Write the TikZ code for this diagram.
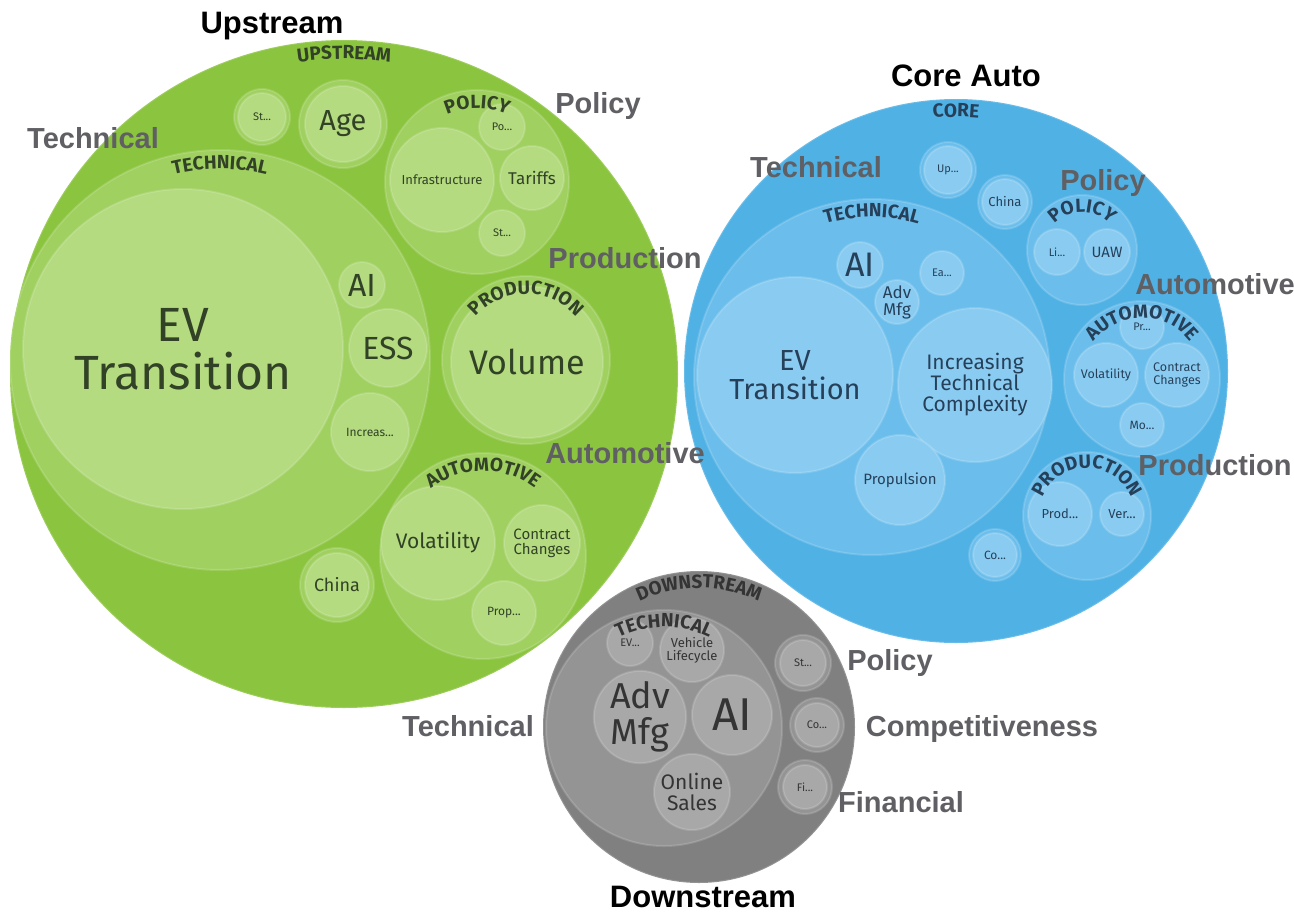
\documentclass[tikz,border=0pt]{standalone}
\usepackage{fontspec}
\setmainfont{Liberation Sans}
\newfontfamily\bubfont{Fira Sans}
\usetikzlibrary{decorations.text}

\definecolor{gZero}{RGB}{139,196,63}
\definecolor{gOne}{RGB}{160,208,96}
\definecolor{gTwo}{RGB}{180,219,128}
\definecolor{gInk}{RGB}{50,66,38}
\definecolor{bZero}{RGB}{80,177,229}
\definecolor{bOne}{RGB}{107,190,236}
\definecolor{bTwo}{RGB}{138,204,241}
\definecolor{bInk}{RGB}{38,64,90}
\definecolor{kZero}{RGB}{128,128,128}
\definecolor{kOne}{RGB}{148,148,148}
\definecolor{kTwo}{RGB}{168,168,168}
\definecolor{kInk}{RGB}{52,52,52}
\definecolor{labGray}{RGB}{95,95,100}

\newcommand{\bsz}[1]{\fontsize{#1}{#1}\selectfont}
% curved group name along the top of a bubble
\newcommand{\arclabel}[4]{%
  \path[decorate, decoration={text along path, text align=center, text color=#4,
      text={|\bubfont\bfseries\bsz{19}|#3}}]
    #1 ++(178:#2) arc[start angle=178, end angle=2, radius=#2];}

\begin{document}
\begin{tikzpicture}[x=1pt, y=1pt,
  bub/.style={circle, inner sep=0pt, align=center, draw=white, draw opacity=0.15, line width=2pt},
  fs/.style={font=\bubfont\bsz{#1}},
  g0/.style={bub, fill=gZero, minimum size=#1},
  g1/.style={bub, fill=gOne, minimum size=#1},
  g2/.style={bub, fill=gTwo, text=gInk, minimum size=#1},
  b0/.style={bub, fill=bZero, minimum size=#1},
  b1/.style={bub, fill=bOne, minimum size=#1},
  b2/.style={bub, fill=bTwo, text=bInk, minimum size=#1},
  k0/.style={bub, fill=kZero, minimum size=#1},
  k1/.style={bub, fill=kOne, minimum size=#1},
  k2/.style={bub, fill=kTwo, text=kInk, minimum size=#1},
  lab/.style={font=\bfseries\bsz{29}, text=labGray, anchor=base, inner sep=0pt},
  ttl/.style={font=\bfseries\bsz{31}, anchor=base, inner sep=0pt}]
  \useasboundingbox (0,0) rectangle (1294,-911);

  % upstream
  \node[g0=668] (up) at (344,-374) {};
  \node[g1=420] (upTech) at (220,-360) {};
  \node[g2=320, fs=48] (upEV) at (183,-349) {EV\\Transition};
  \node[g2=46, fs=32] (upAI) at (362,-285) {AI};
  \node[g2=78, fs=32] (upESS) at (388,-348) {ESS};
  \node[g2=78, fs=12] (upInc) at (370,-432) {Increas...};
  \node[g1=56] (upStc) at (262,-117) {};
  \node[g2=48, fs=11] (upSt) at (262,-117) {St...};
  \node[g1=88] (upAgec) at (343,-124) {};
  \node[g2=76, fs=29] (upAge) at (343,-124) {Age};
  \node[g1=184] (upPol) at (477,-182) {};
  \node[g2=46, fs=11] (upPo) at (502,-127) {Po...};
  \node[g2=104, fs=13] (upInf) at (442,-180) {Infrastructure};
  \node[g2=64, fs=17] (upTar) at (532,-178) {Tariffs};
  \node[g2=46, fs=11] (upSt2) at (502,-233) {St...};
  \node[g1=168] (upProd) at (526,-360) {};
  \node[g2=152, fs=34] (upVol) at (527,-362) {Volume};
  \node[g1=206] (upAuto) at (483,-556) {};
  \node[g2=114, fs=21] (upVlt) at (438,-543) {Volatility};
  \node[g2=76, fs=15] (upCon) at (542,-543) {Contract\\Changes};
  \node[g2=64, fs=12] (upProp) at (504,-613) {Prop...};
  \node[g1=74] (upChc) at (337,-585) {};
  \node[g2=64, fs=18] (upCh) at (337,-585) {China};
  \arclabel{(344,-374)}{315}{UPSTREAM}{gInk}
  \arclabel{(220,-360)}{191}{TECHNICAL}{gInk}
  \arclabel{(477,-182)}{74}{POLICY}{gInk}
  \arclabel{(526,-360)}{66}{PRODUCTION}{gInk}
  \arclabel{(483,-556)}{85}{AUTOMOTIVE}{gInk}

  % core auto
  \node[b0=544] (core) at (956,-371) {};
  \node[b1=356] (coTech) at (872,-377) {};
  \node[b2=196, fs=29] (coEV) at (795,-375) {EV\\Transition};
  \node[b2=154, fs=21] (coInc) at (975,-385) {Increasing\\Technical\\Complexity};
  \node[b2=46, fs=34] (coAI) at (860,-265) {AI};
  \node[b2=44, fs=17] (coAdv) at (897,-302) {Adv\\Mfg};
  \node[b2=44, fs=11] (coEa) at (942,-273) {Ea...};
  \node[b2=90, fs=15] (coProp) at (900,-480) {Propulsion};
  \node[b1=56] (coUpc) at (948,-170) {};
  \node[b2=48, fs=11] (coUp) at (948,-170) {Up...};
  \node[b1=54] (coChc) at (1005,-202) {};
  \node[b2=46, fs=13] (coCh) at (1005,-202) {China};
  \node[b1=110] (coPol) at (1082,-250) {};
  \node[b2=46, fs=11] (coLi) at (1057,-252) {Li...};
  \node[b2=46, fs=15] (coUAW) at (1107,-252) {UAW};
  \node[b1=156] (coAuto) at (1142,-379) {};
  \node[b2=44, fs=11] (coPr) at (1142,-327) {Pr...};
  \node[b2=64, fs=12.5] (coVlt) at (1106,-375) {Volatility};
  \node[b2=64, fs=12.5] (coCon) at (1177,-375) {Contract\\Changes};
  \node[b2=44, fs=12] (coMo) at (1142,-425) {Mo...};
  \node[b1=128] (coProd) at (1087,-516) {};
  \node[b2=64, fs=13] (coPrd) at (1060,-514) {Prod...};
  \node[b2=44, fs=13] (coVer) at (1122,-514) {Ver...};
  \node[b1=52] (coCoc) at (995,-555) {};
  \node[b2=44, fs=12] (coCo) at (995,-555) {Co...};
  \arclabel{(956,-371)}{254}{CORE}{bInk}
  \arclabel{(872,-377)}{160}{TECHNICAL}{bInk}
  \arclabel{(1082,-250)}{38}{POLICY}{bInk}
  \arclabel{(1142,-379)}{61}{AUTOMOTIVE}{bInk}
  \arclabel{(1087,-516)}{48}{PRODUCTION}{bInk}

  % downstream
  \node[k0=312] (down) at (699,-727) {};
  \node[k1=236] (dnTech) at (664,-728) {};
  \node[k2=46, fs=11] (dnEV) at (630,-643) {EV...};
  \node[k2=64, fs=13] (dnVeh) at (692,-650) {Vehicle\\Lifecycle};
  \node[k2=90, fs=36] (dnAdv) at (640,-717) {Adv\\Mfg};
  \node[k2=80, fs=46] (dnAI) at (732,-715) {AI};
  \node[k2=76, fs=21] (dnOnl) at (692,-792) {Online\\Sales};
  \node[k1=56] (dnStc) at (803,-663) {};
  \node[k2=46, fs=11] (dnSt) at (803,-663) {St...};
  \node[k1=54] (dnCoc) at (817,-725) {};
  \node[k2=44, fs=11] (dnCo) at (817,-725) {Co...};
  \node[k1=54] (dnFic) at (805,-787) {};
  \node[k2=44, fs=11] (dnFi) at (805,-787) {Fi...};
  \arclabel{(699,-727)}{139}{DOWNSTREAM}{kInk}
  \arclabel{(664,-728)}{101}{TECHNICAL}{kInk}

  % group titles and side labels
  \node[ttl] (tUp) at (272,-33) {Upstream};
  \node[ttl] (tCore) at (966,-86) {Core Auto};
  \node[ttl] (tDown) at (703,-907) {Downstream};
  \node[lab] (l1) at (93,-148) {Technical};
  \node[lab] (l2) at (598,-113) {Policy};
  \node[lab] (l3) at (625,-268) {Production};
  \node[lab] (l4) at (625,-463) {Automotive};
  \node[lab] (l5) at (816,-177) {Technical};
  \node[lab] (l6) at (1103,-190) {Policy};
  \node[lab] (l7) at (1215,-294) {Automotive};
  \node[lab] (l8) at (1215,-475) {Production};
  \node[lab] (l9) at (468,-736) {Technical};
  \node[lab] (l10) at (890,-670) {Policy};
  \node[lab] (l11) at (982,-736) {Competitiveness};
  \node[lab] (l12) at (901,-812) {Financial};
\end{tikzpicture}
\end{document}
